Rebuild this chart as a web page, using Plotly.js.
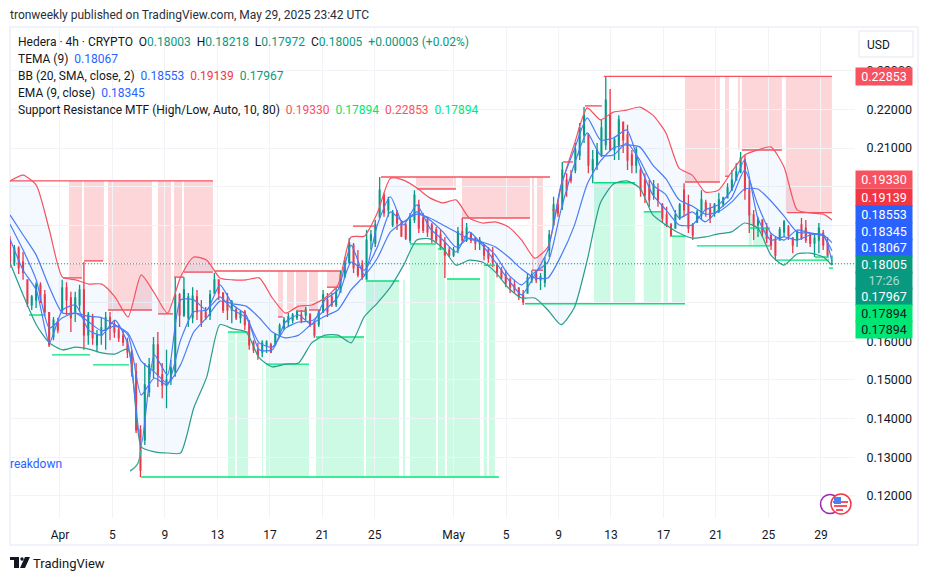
<!DOCTYPE html>
<html><head><meta charset="utf-8">
<script src="https://cdn.plot.ly/plotly-3.0.1.min.js"></script>
<style>html,body{margin:0;padding:0;background:#fff}#c{width:927px;height:580px}</style>
</head><body><div id="c"></div>
<script>
// OHLC in USD, one stick per roughly 8 hours
const opens=[.1862,.1805,.1841,.1805,.1759,.1694,.1707,.1746,.1720,.1674,
.1612,.1650,.1681,.1738,.1712,.1676,.1694,.1733,.1617,.1661,
.1591,.1617,.1629,.1661,.1643,.1629,.1614,.1598,.1572,.1521,
.1371,.1345,.1469,.1526,.1591,.1513,.1487,.1500,.1521,.1720,
.1668,.1661,.1661,.1715,.1676,.1676,.1668,.1725,.1759,.1725,
.1707,.1681,.1681,.1661,.1676,.1650,.1598,.1578,.1572,.1591,
.1591,.1591,.1614,.1635,.1650,.1655,.1661,.1668,.1668,.1668,
.1650,.1643,.1676,.1707,.1715,.1694,.1728,.1767,.1803,.1849,
.1797,.1797,.1761,.1862,.1854,.1921,.1978,.1940,.1901,.1932,
.1906,.1901,.1862,.1914,.1953,.1919,.1914,.1901,.1888,.1875,
.1854,.1836,.1823,.1836,.1883,.1862,.1880,.1867,.1854,.1849,
.1836,.1823,.1797,.1784,.1771,.1759,.1746,.1738,.1720,.1725,
.1759,.1779,.1759,.1753,.1836,.1901,.1953,.1953,.2017,.2030,
.2043,.2082,.2134,.2134,.2043,.2056,.2082,.2108,.2185,.2095,
.2108,.2167,.2134,.2082,.2056,.2043,.2017,.2004,.1978,.1991,
.1953,.1927,.1901,.1893,.1919,.1991,.1953,.1901,.1909,.1927,
.1958,.1943,.1932,.1937,.1955,.1971,.1991,.2017,.2038,.2069,
.1991,.1927,.1901,.1914,.1893,.1873,.1862,.1862,.1883,.1896,
.1867,.1862,.1901,.1893,.1875,.1854,.1862,.1880,.1854,.18003];
const highs=[.1872,.1849,.1846,.1831,.1759,.1720,.1753,.1753,.1733,.1673,
.1663,.1661,.1759,.1753,.1728,.1728,.1746,.1805,.1676,.1671,
.1629,.1661,.1676,.1676,.1655,.1643,.1629,.1609,.1578,.1544,
.1383,.1544,.1557,.1611,.1624,.1544,.1578,.1552,.1766,.1725,
.1766,.1725,.1740,.1733,.1707,.1689,.1733,.1777,.1759,.1725,
.1725,.1707,.1689,.1681,.1681,.1655,.1603,.1596,.1603,.1603,
.1596,.1621,.1647,.1663,.1673,.1673,.1681,.1681,.1689,.1673,
.1655,.1681,.1733,.1725,.1725,.1740,.1784,.1818,.1867,.1854,
.1836,.1810,.1888,.1888,.1914,.2025,.1984,.1974,.1940,.1940,
.1914,.1906,.1932,.1991,.1966,.1932,.1922,.1906,.1896,.1888,
.1870,.1844,.1844,.1896,.1919,.1906,.1880,.1870,.1870,.1849,
.1844,.1844,.1803,.1792,.1784,.1766,.1759,.1740,.1733,.1777,
.1784,.1784,.1777,.1818,.1888,.1974,.1966,.2064,.2035,.2043,
.2113,.2165,.2206,.2139,.2095,.2113,.2173,.22853,.2253,.2129,
.2185,.2167,.2160,.2095,.2103,.2051,.2035,.2017,.2017,.2009,
.1958,.1948,.1906,.1940,.1958,.2009,.1979,.1906,.1940,.1991,
.1966,.1958,.1958,.1984,.1974,.2009,.2043,.2061,.2090,.2082,
.2017,.1940,.1922,.1914,.1906,.1880,.1870,.1896,.1914,.1901,
.1870,.1888,.1919,.1914,.1880,.1880,.1906,.1888,.1870,.18218];
const lows=[.1790,.1795,.1774,.1759,.1689,.1681,.1686,.1699,.1665,.1585,
.1603,.1621,.1673,.1668,.1624,.1650,.1676,.1578,.1591,.1591,
.1572,.1591,.1578,.1603,.1609,.1598,.1588,.1557,.1508,.1363,
.1249,.1332,.1456,.1505,.1482,.1453,.1427,.1487,.1508,.1637,
.1663,.1637,.1647,.1655,.1637,.1655,.1655,.1725,.1707,.1673,
.1655,.1647,.1655,.1647,.1629,.1578,.1570,.1552,.1559,.1570,
.1570,.1591,.1611,.1629,.1637,.1647,.1655,.1647,.1655,.1637,
.1609,.1637,.1673,.1663,.1689,.1689,.1725,.1766,.1803,.1777,
.1766,.1759,.1759,.1836,.1844,.1922,.1922,.1922,.1896,.1888,
.1870,.1862,.1854,.1906,.1880,.1880,.1870,.1854,.1854,.1836,
.1764,.1818,.1818,.1828,.1854,.1857,.1854,.1836,.1836,.1810,
.1803,.1792,.1766,.1759,.1740,.1725,.1725,.1707,.1694,.1725,
.1751,.1751,.1733,.1740,.1818,.1906,.1922,.1940,.1974,.2009,
.2035,.2069,.2113,.2035,.2009,.2043,.2077,.2095,.2095,.2069,
.2069,.2087,.2043,.2035,.2035,.1974,.1958,.1948,.1966,.1948,
.1906,.1896,.1870,.1896,.1914,.1922,.1880,.1862,.1906,.1914,
.1922,.1906,.1922,.1932,.1948,.1974,.1991,.2017,.2035,.1966,
.1880,.1862,.1870,.1870,.1854,.1836,.1810,.1862,.1870,.1862,
.1828,.1844,.1862,.1854,.1844,.1818,.1828,.1836,.1818,.17972];
const closes=[.1805,.1841,.1790,.1779,.1699,.1715,.1746,.1712,.1676,.1591,
.1655,.1629,.1738,.1707,.1661,.1712,.1733,.1617,.1668,.1609,
.1617,.1635,.1661,.1635,.1624,.1609,.1598,.1572,.1521,.1371,
.1267,.1487,.1539,.1591,.1513,.1487,.1500,.1531,.1720,.1668,
.1733,.1715,.1717,.1676,.1650,.1661,.1720,.1759,.1725,.1681,
.1681,.1702,.1661,.1676,.1643,.1591,.1578,.1565,.1596,.1598,
.1572,.1617,.1640,.1655,.1663,.1668,.1676,.1655,.1681,.1643,
.1617,.1676,.1720,.1676,.1694,.1728,.1772,.1805,.1854,.1790,
.1772,.1767,.1862,.1875,.1901,.1991,.1932,.1966,.1932,.1906,
.1873,.1867,.1914,.1978,.1893,.1888,.1883,.1867,.1862,.1844,
.1823,.1823,.1836,.1883,.1862,.1893,.1862,.1854,.1862,.1823,
.1815,.1805,.1779,.1764,.1751,.1741,.1733,.1717,.1702,.1764,
.1772,.1759,.1767,.1805,.1875,.1953,.1932,.2043,.1991,.2017,
.2095,.2152,.2185,.2056,.2069,.2095,.2152,.2224,.2095,.2121,
.2173,.2121,.2069,.2056,.2095,.1991,.1978,.1966,.2004,.1966,
.1919,.1901,.1875,.1927,.1953,.1940,.1893,.1875,.1934,.1966,
.1940,.1919,.1953,.1966,.1971,.1997,.2017,.2038,.2074,.1991,
.1927,.1901,.1914,.1883,.1867,.1849,.1823,.1888,.1909,.1875,
.1849,.1883,.1867,.1862,.1854,.1867,.1893,.1849,.1823,.18005];

// indicator lines, one reading per day plus the last bar
const bbUpper=[.2015,.2030,.2004,.1888,.1766,.1759,.1748,.1748,.1715,.1663,
.1772,.1725,.1673,.1766,.1818,.1810,.1764,.1759,.1759,.1764,
.1712,.1673,.1691,.1694,.1712,.1746,.1870,.1872,.1932,.2022,
.2017,.1997,.1971,.1958,.1966,.1919,.1906,.1909,.1896,.1862,
.1815,.1844,.1999,.2108,.2204,.2173,.2193,.2198,.2206,.2185,
.2139,.2048,.2030,.1986,.1991,.2038,.2082,.2095,.2103,.2051,
.1940,.1932,.1929,.19139];
const bbLower=[.1803,.1720,.1643,.1596,.1578,.1585,.1580,.1570,.1567,.1580,
.1327,.1314,.1311,.1311,.1427,.1508,.1643,.1632,.1624,.1557,
.1534,.1541,.1544,.1596,.1616,.1616,.1596,.1663,.1699,.1740,
.1797,.1862,.1865,.1841,.1797,.1810,.1805,.1779,.1738,.1712,
.1712,.1681,.1643,.1686,.1810,.1958,.2007,.2015,.1997,.1927,
.1901,.1880,.1867,.1870,.1878,.1883,.1906,.1893,.1823,.1797,
.1826,.1828,.1818,.17967];
const bbBasis=[.1927,.1875,.1823,.1740,.1673,.1673,.1665,.1661,.1643,.1621,
.1549,.1521,.1492,.1539,.1624,.1661,.1704,.1697,.1691,.1661,
.1624,.1609,.1616,.1645,.1665,.1681,.1733,.1769,.1815,.1883,
.1909,.1929,.1919,.1901,.1883,.1865,.1857,.1844,.1818,.1787,
.1764,.1764,.1821,.1898,.2007,.2066,.2100,.2108,.2103,.2056,
.2020,.1966,.1950,.1929,.1935,.1960,.1994,.1994,.1963,.1924,
.1883,.1880,.1875,.18553];
const ema9=[.1903,.1836,.1759,.1634,.1661,.1673,.1650,.1627,.1640,.1616,
.1461,.1505,.1487,.1603,.1676,.1681,.1715,.1681,.1661,.1596,
.1585,.1634,.1650,.1653,.1681,.1715,.1805,.1784,.1844,.1935,
.1909,.1935,.1914,.1883,.1844,.1867,.1854,.1823,.1772,.1746,
.1779,.1805,.1940,.2056,.2139,.2082,.2082,.2113,.2069,.2004,
.1979,.1919,.1935,.1909,.1940,.1971,.2043,.1953,.1880,.1862,
.1888,.1880,.1872,.18345];
const tema9=[.1865,.1784,.1733,.1596,.1681,.1694,.1629,.1616,.1655,.1591,
.1332,.1565,.1513,.1707,.1707,.1681,.1746,.1694,.1668,.1578,
.1578,.1650,.1668,.1643,.1707,.1733,.1849,.1772,.1901,.1974,
.1901,.1953,.1893,.1862,.1831,.1883,.1849,.1805,.1759,.1720,
.1772,.1836,.2004,.2095,.2178,.2121,.2126,.2147,.2056,.1979,
.1940,.1901,.1901,.1940,.1953,.1991,.2069,.1919,.1862,.1870,
.1862,.1875,.1875,.18067];
const tailDays=[5.34,5.64,5.95,6.17];
const tailValues=[.1264,.1272,.1285,.1319];

// support / resistance levels; days counted from 1 April
const resStart=[-3.81,11.81,24.47,41.46,.23,1.83,3.66,7.47,8.69,9.45,16.62,18.06,18.98,20.35,21.5,22.33,27.21,30.64,35.98,37.5,38.34,40.01,47.64,50.69,51.98,55.41];
const resEnd=[11.66,21.34,37.35,58.84,1.68,3.28,7.01,8.61,9.45,11.66,16.98,18.83,19.89,21.34,21.73,24.01,30.18,35.82,36.81,37.73,39.1,41.31,50.30,51.0,55.03,58.84];
const resLevel=[.2015,.1782,.2025,.22853,.1764,.1808,.1681,.1671,.1766,.1779,.1663,.1678,.1681,.1740,.1790,.1898,.1994,.1919,.1784,.1940,.2064,.2209,.2012,.2027,.2095,.19330];
const supStart=[6.17,35.44,48.55,54.5,58.61,-.61,2.52,-2.36,12.8,15.7,19.51,23.32,26.68,28.81,29.5,32.3,40.7,44.5,46.04,46.65,52.5,57.55];
const supEnd=[33.46,47.64,54.12,58.61,58.92,2.29,5.26,-1.14,14.33,18.98,23.17,25.84,28.66,29.34,32.01,33.15,43.83,45.81,46.34,47.64,54.12,58.61];
const supLevel=[.1249,.1697,.1847,.1810,.17894,.1565,.1539,.1668,.1624,.1541,.1611,.1756,.1852,.1839,.1761,.1797,.2010,.1935,.1901,.1872,.1893,.1818];

const redZoneStart=[.69,1.83,3.66,7.47,8.69,9.45,16.62,17.3,17.99,18.98,20.35,27.13,30.64,35.98,36.36,47.64,50.69,51.68,51.98,55.33];
const redZoneEnd=[1.68,3.35,7.01,8.46,9.30,11.66,17.0,17.84,18.83,19.66,21.34,30.18,35.82,36.13,36.81,50.30,51.0,51.83,55.03,58.84];
const redZoneTop=[.2015,.2015,.2015,.2015,.2015,.2015,.1782,.1782,.1782,.1782,.1782,.2025,.2025,.2025,.2025,.22853,.22853,.22853,.22853,.22853];
const redZoneBottom=[.1764,.1808,.1681,.1671,.1766,.1779,.1663,.1681,.1678,.1681,.1740,.1994,.1919,.1784,.1784,.2012,.2027,.2095,.2095,.1933];
const greenZoneStart=[12.8,13.49,15.4,15.7,19.51,23.32,26.14,26.68,28.81,29.5,32.3,32.7,40.7,42.15,44.5,46.04,46.65,52.5,52.82,57.55];
const greenZoneEnd=[13.34,14.33,15.47,18.98,23.17,25.84,26.3,28.66,29.34,32.01,32.55,33.15,42.0,43.83,45.81,46.34,47.64,52.74,54.12,58.61];
const greenZoneTop=[.1624,.1624,.1541,.1541,.1611,.1756,.1759,.1852,.1839,.1761,.1797,.1797,.2012,.2009,.1935,.1901,.1872,.1932,.1893,.1818];
const greenZoneBottom=[.1249,.1249,.1249,.1249,.1249,.1249,.1249,.1249,.1249,.1249,.1249,.1249,.1697,.1697,.1697,.1697,.1697,.1847,.1847,.1810];

const lastPrice=.18005;
const xTickDays=[0,4,8,12,16,20,24,30,34,38,42,46,50,54,58];
const xTickText=['Apr','5','9','13','17','21','25','May','5','9','13','17','21','25','29'];
const yTickVals=[.12,.13,.14,.15,.16,.17,.18,.19,.20,.21,.22,.23];
const yTickText=['0.12000','0.13000','0.14000','0.15000','0.16000','','','','','0.21000','0.22000','0.23000'];

const tagText=['0.22853','0.19330','0.19139','0.18553','0.18345','0.18067','0.18005','17:26','0.17967','0.17894','0.17894'];
const tagColor=['#f7525f','#f7525f','#f23645','#2962ff','#2962ff','#2962ff','#089981','#089981','#089981','#00e676','#00e676'];
const tagFont=['#fff','#fff','#fff','#fff','#fff','#fff','#fff','#a8dcd2','#fff','#131722','#131722'];
const tagMid=[77,180,197,214,231,247.5,264,280,296,313,329.5];

const FIRST=-3.81, LAST=58.84;
const candleDays=opens.map((_,i)=>FIRST+i*(LAST-FIRST)/(opens.length-1));
const lineDays=bbUpper.map((_,i)=>i<bbUpper.length-1?FIRST+i:LAST);

// page-pixel helpers for furniture outside the plot
const L=10,R=855,T=28,B=518;
const px=x=>(x-L)/(R-L), py=y=>(B-y)/(B-T);

function segs(s,e,v){const x=[],y=[];s.forEach((a,i)=>{x.push(a,e[i],null);y.push(v[i],v[i],null);});return {x,y};}
function lineTrace(y,color,w){return {type:'scatter',mode:'lines',x:lineDays,y,hoverinfo:'skip',showlegend:false,
  line:{color,width:w||1.2,shape:'spline',smoothing:.6}};}

const res=segs(resStart,resEnd,resLevel), sup=segs(supStart,supEnd,supLevel);
const traces=[
 {type:'scatter',mode:'lines',x:res.x,y:res.y,line:{color:'#f7525f',width:1.4},connectgaps:false,hoverinfo:'skip',showlegend:false},
 {type:'scatter',mode:'lines',x:sup.x,y:sup.y,line:{color:'#00e676',width:1.4},connectgaps:false,hoverinfo:'skip',showlegend:false},
 lineTrace(bbUpper,'#f7525f'),
 Object.assign(lineTrace(bbLower,'#2a9d8a'),{fill:'tonexty',fillcolor:'rgba(33,150,243,0.055)'}),
 {type:'scatter',mode:'lines',x:tailDays,y:tailValues,line:{color:'#3fae9a',width:1.4,shape:'spline'},hoverinfo:'skip',showlegend:false},
 lineTrace(bbBasis,'#4a7cf6'),
 lineTrace(ema9,'#4a7cf6'),
 lineTrace(tema9,'#4a7cf6'),
 {type:'candlestick',x:candleDays,open:opens,high:highs,low:lows,close:closes,hoverinfo:'skip',showlegend:false,whiskerwidth:0,
  increasing:{line:{color:'#089981',width:1.3},fillcolor:'#089981'},
  decreasing:{line:{color:'#f23645',width:1.3},fillcolor:'#f23645'}}
];

const shapes=[];
function rect(x0,x1,y0,y1,fill,layer){shapes.push({type:'rect',xref:'paper',yref:'paper',x0:px(x0),x1:px(x1),y0:py(y0),y1:py(y1),fillcolor:fill,line:{width:0},layer:layer||'above'});}
// frame
shapes.push({type:'rect',xref:'paper',yref:'paper',x0:px(10),x1:px(918),y0:py(27),y1:py(545),line:{color:'#f0f3fa',width:2},fillcolor:'rgba(0,0,0,0)',layer:'below'});
redZoneStart.forEach((s,i)=>shapes.push({type:'rect',xref:'x',yref:'y',x0:s,x1:redZoneEnd[i],y0:redZoneBottom[i],y1:redZoneTop[i],fillcolor:'rgba(247,82,95,0.24)',line:{width:0},layer:'below'}));
greenZoneStart.forEach((s,i)=>shapes.push({type:'rect',xref:'x',yref:'y',x0:s,x1:greenZoneEnd[i],y0:greenZoneBottom[i],y1:greenZoneTop[i],fillcolor:'rgba(0,230,118,0.2)',line:{width:0},layer:'below'}));
// last price line
shapes.push({type:'line',xref:'paper',yref:'y',x0:0,x1:1,y0:lastPrice,y1:lastPrice,line:{color:'#089981',width:1,dash:'1px,2px'},layer:'above'});
// USD box
shapes.push({type:'rect',xref:'paper',yref:'paper',x0:px(859),x1:px(913),y0:py(31),y1:py(57),line:{color:'#eef0f4',width:1.5},fillcolor:'#fff',layer:'above'});
// event markers
function circle(cx,cy,r,fill,stroke,w){shapes.push({type:'circle',xref:'paper',yref:'paper',x0:px(cx-r),x1:px(cx+r),y0:py(cy-r),y1:py(cy+r),fillcolor:fill,line:{color:stroke,width:w||0},layer:'above'});}
circle(830,504,9.5,'#fff','#9c27b0',1.5);
circle(841,504,10,'#fff','#f23645',1.5);
rect(833,848,501,503,'#f7525f');
rect(834,847,505,507,'#f7525f');
rect(836,843,509,511,'#f7525f');
rect(834,841,497,504,'#4c7ff5');
// TradingView mark
rect(10,19,557,560,'#131722');
rect(14,19,560,568,'#131722');
circle(22,559,1.7,'#131722','#131722');
shapes.push({type:'path',xref:'paper',yref:'paper',path:`M${px(25)},${py(557)} L${px(30)},${py(557)} L${px(25)},${py(568)} L${px(20)},${py(568)} Z`,fillcolor:'#131722',line:{width:0},layer:'above'});

const FONT='Roboto, "Noto Sans", sans-serif';
const annotations=[];
function text(x,y,t,size,color,anchor,weight){annotations.push({xref:'paper',yref:'paper',x:px(x),y:py(y),text:t,showarrow:false,xanchor:anchor||'left',yanchor:'middle',
  font:{family:FONT,size:size||12,color:color||'#131722',weight:weight||400},align:'left',borderpad:0});}
const sp=(c,t)=>`<span style="color:${c}">${t}</span>`;
const G='#089981',Bl='#2962ff',Rd='#f23645',Br='#00e676',Rs='#f7525f';
text(9,15,'tronweekly published on TradingView.com, May 29, 2025 23:42 UTC',12,'#2a2e39');
text(17,42,`Hedera · 4h · CRYPTO  O${sp(G,'0.18003')}  H${sp(G,'0.18218')}  L${sp(G,'0.17972')}  C${sp(G,'0.18005')}  ${sp(G,'+0.00003 (+0.02%)')}`);
text(17,59,`TEMA (9)  ${sp(Bl,'0.18067')}`);
text(17,76,`BB (20, SMA, close, 2)  ${sp(Bl,'0.18553')}  ${sp(Rd,'0.19139')}  ${sp(G,'0.17967')}`);
text(17,93,`EMA (9, close)  ${sp(Bl,'0.18345')}`);
text(17,110,`Support Resistance MTF (High/Low, Auto, 10, 80)  ${sp(Rs,'0.19330')}  ${sp(Br,'0.17894')}  ${sp(Rs,'0.22853')}  ${sp(Br,'0.17894')}`);
text(9,464,'reakdown',12,'#2962ff');
text(878,45,'USD',12,'#131722','center');
text(32,563,'TradingView',13,'#131722','left',400);
tagText.forEach((t,i)=>annotations.push({xref:'paper',yref:'paper',x:px(884),y:py(tagMid[i]),text:t,showarrow:false,xanchor:'center',yanchor:'middle',
  width:56,height:16.5,bgcolor:tagColor[i],borderpad:0,font:{family:FONT,size:12.5,color:tagFont[i]},align:'center',valign:'middle'}));

Plotly.newPlot('c',traces,{
 width:927,height:580,autosize:false,paper_bgcolor:'#fff',plot_bgcolor:'#fff',
 margin:{l:L,r:927-R,t:T,b:580-B,pad:0},showlegend:false,boxgap:.74,dragmode:false,
 font:{family:FONT,size:12,color:'#131722'},
 xaxis:{type:'linear',range:[-3.81,60.6],tickmode:'array',tickvals:xTickDays,ticktext:xTickText,showgrid:true,gridcolor:'#f2f3f6',gridwidth:1,
   zeroline:false,showline:false,ticks:'outside',ticklen:6,tickcolor:'rgba(0,0,0,0)',rangeslider:{visible:false},tickfont:{size:12,color:'#131722'},automargin:false},
 yaxis:{type:'linear',side:'right',range:[.11429,.24105],tickmode:'array',tickvals:yTickVals,ticktext:yTickText,showgrid:true,gridcolor:'#f2f3f6',gridwidth:1,
   zeroline:false,showline:false,ticks:'outside',ticklen:8,tickcolor:'rgba(0,0,0,0)',tickfont:{size:12.5,color:'#131722'},automargin:false},
 shapes,annotations
},{staticPlot:true,displayModeBar:false});
</script></body></html>
